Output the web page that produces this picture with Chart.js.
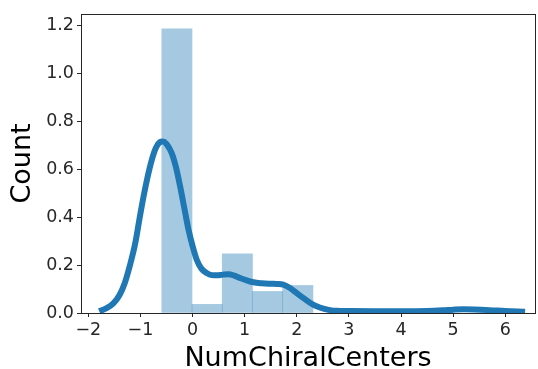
<!DOCTYPE html>
<html>
<head>
<meta charset="utf-8">
<script src="https://cdn.jsdelivr.net/npm/chart.js@4"></script>
<style>
html,body{margin:0;padding:0;background:#fff;}
#wrap{width:538px;height:369px;}
</style>
</head>
<body>
<div id="wrap"><canvas id="c" width="538" height="369"></canvas></div>
<script>
// Histogram bins (centers) and heights (density)
const binCenters = [-0.30, 0.28, 0.86, 1.44, 2.02];
const binHeights = [1.185, 0.036, 0.247, 0.090, 0.115];
// KDE curve
const kdeX = [-1.79, -1.65, -1.52, -1.40, -1.30, -1.20, -1.10, -1.02, -0.94, -0.86, -0.78, -0.70, -0.63, -0.57, -0.50, -0.40, -0.32, -0.24, -0.16, -0.08, 0.00, 0.08, 0.17, 0.27, 0.37, 0.46, 0.58, 0.69, 0.80, 0.91, 1.04, 1.17, 1.33, 1.49, 1.62, 1.74, 1.87, 2.00, 2.13, 2.26, 2.38, 2.51, 2.64, 2.77, 3.00, 3.50, 4.00, 4.50, 4.80, 5.00, 5.20, 5.40, 5.70, 6.00, 6.38];
const kdeY = [0.007, 0.020, 0.040, 0.075, 0.125, 0.200, 0.290, 0.390, 0.486, 0.570, 0.640, 0.690, 0.712, 0.715, 0.705, 0.667, 0.610, 0.530, 0.440, 0.350, 0.280, 0.222, 0.185, 0.167, 0.158, 0.157, 0.160, 0.162, 0.156, 0.146, 0.136, 0.128, 0.124, 0.122, 0.121, 0.118, 0.104, 0.083, 0.062, 0.042, 0.028, 0.018, 0.012, 0.009, 0.008, 0.007, 0.007, 0.008, 0.011, 0.014, 0.016, 0.015, 0.012, 0.008, 0.005];
const xTicks = [-2, -1, 0, 1, 2, 3, 4, 5, 6];
const yTicks = [0.0, 0.2, 0.4, 0.6, 0.8, 1.0, 1.2];
const xLabel = 'NumChiralCenters';
const yLabel = 'Count';

const frame = {
  id: 'frame',
  afterDraw(chart) {
    const a = chart.chartArea, ctx = chart.ctx;
    ctx.save();
    ctx.strokeStyle = '#262626';
    ctx.lineWidth = 1;
    ctx.strokeRect(Math.round(a.left) + 0.5, Math.round(a.top) + 0.5, Math.round(a.right - a.left), Math.round(a.bottom - a.top));
    ctx.restore();
  }
};

const tickFont = {family: 'DejaVu Sans', size: 17.5};
const titleFont = {family: 'DejaVu Sans', size: 27, lineHeight: 1};
new Chart(document.getElementById('c'), {
  data: {
    datasets: [
      {
        type: 'line',
        data: kdeX.map((x, i) => ({x: x, y: kdeY[i]})),
        borderColor: '#1f77b4',
        borderWidth: 6,
        pointRadius: 0,
        fill: false,
        cubicInterpolationMode: 'monotone',
        borderCapStyle: 'butt',
        order: 0
      },
      {
        type: 'bar',
        data: binCenters.map((x, i) => ({x: x, y: binHeights[i]})),
        backgroundColor: 'rgba(31,119,180,0.4)',
        borderWidth: 0,
        barPercentage: 1,
        categoryPercentage: 1,
        order: 1
      }
    ]
  },
  options: {
    responsive: false,
    animation: false,
    devicePixelRatio: 1,
    layout: {padding: {left: 0, top: 14, right: 3, bottom: 0}},
    plugins: {legend: {display: false}, tooltip: {enabled: false}},
    scales: {
      x: {
        type: 'linear',
        min: -2.14,
        max: 6.57,
        offset: false,
        afterBuildTicks: s => { s.ticks = xTicks.map(v => ({value: v})); },
        afterFit: s => { s.height = 56; },
        ticks: {
          font: tickFont, color: '#262626', padding: 3, maxRotation: 0, autoSkip: false,
          callback: v => (v < 0 ? '\u2212' + Math.abs(v) : String(v))
        },
        grid: {display: true, offset: false, drawOnChartArea: false, drawTicks: true, tickLength: 4, color: '#262626', lineWidth: 1},
        border: {display: true, color: '#262626'},
        title: {display: true, text: xLabel, font: titleFont, color: '#000', padding: {top: 0, bottom: -3}}
      },
      y: {
        type: 'linear',
        min: 0,
        max: 1.247,
        afterBuildTicks: s => { s.ticks = yTicks.map(v => ({value: v})); },
        afterFit: s => { s.width = 81; },
        ticks: {
          font: tickFont, color: '#262626', padding: 3,
          callback: v => Number(v).toFixed(1)
        },
        grid: {display: true, offset: false, drawOnChartArea: false, drawTicks: true, tickLength: 4, color: '#262626', lineWidth: 1},
        border: {display: true, color: '#262626'},
        title: {display: true, text: yLabel, font: titleFont, color: '#000', padding: {top: 9.5, bottom: 0}}
      }
    }
  },
  plugins: [frame]
});
</script>
</body>
</html>
